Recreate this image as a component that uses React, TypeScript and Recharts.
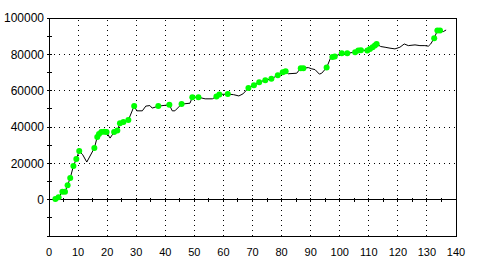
import React from 'react';
import { ComposedChart, Line, XAxis, YAxis, ReferenceLine, ReferenceArea } from 'recharts';

// trade number vs. balance
const tradeNo = [
  1.5, 2.2, 3.3, 4.6, 5.5, 6.4, 7.3, 8.4, 9.4, 10.4, 11.6, 13.0, 15.6, 16.6, 17.2, 18.0, 19.0, 19.8,
  21.0, 22.4, 23.5, 24.4, 25.6, 27.3, 29.3, 30.2, 32.1, 33.3, 34.7, 35.5, 37.6, 41.4, 42.4, 43.3,
  45.6, 48.5, 49.3, 51.4, 53.7, 56.2, 57.6, 58.6, 61.5, 63.5, 65.3, 66.7, 68.6, 70.5, 72.3, 74.4,
  76.5, 78.7, 80.4, 81.4, 82.3, 85.2, 86.6, 87.5, 89.2, 90.4, 91.5, 93.0, 93.8, 95.5, 96.9, 97.5,
  98.3, 100.7, 102.6, 105.3, 106.4, 107.3, 109.5, 110.4, 111.3, 112.1, 112.7, 114.1, 115.6, 117.3,
  119.0, 120.7, 122.2, 123.6, 125.9, 127.6, 129.3, 130.5, 131.3, 132.5, 133.6, 134.5, 135.6, 136.6,
];
const balance = [
  -400, 300, 1300, 4300, 4300, 8000, 11900, 18500, 22400, 26800, 24700, 20700, 28400, 34500, 36100,
  37200, 37400, 37200, 33900, 37200, 38100, 42100, 42700, 43800, 51600, 48900, 48900, 51500, 51800,
  50400, 51500, 52200, 48900, 48900, 52600, 53100, 56400, 56400, 55500, 55500, 56800, 57900, 58100,
  57800, 57100, 58200, 61400, 63000, 64700, 65800, 66500, 68500, 70200, 70700, 69300, 69600, 72400,
  72400, 72700, 72000, 71600, 69100, 69600, 72700, 78200, 78500, 78800, 80600, 80600, 81200, 82100,
  82300, 82100, 83000, 83900, 84800, 85700, 84300, 83900, 83400, 83000, 83900, 85700, 84800, 85200,
  84800, 84800, 84500, 85700, 88900, 93100, 93100, 92500, 93400,
];
// 1 = point drawn with a green marker
const marked = [
  0, 1, 1, 1, 1, 1, 1, 1, 1, 1, 0, 0, 1, 1, 1, 1, 1, 1, 0, 1, 1, 1, 1, 1, 1, 0, 0, 0, 0, 0, 1, 1, 0, 0,
  1, 0, 1, 1, 0, 0, 1, 1, 1, 0, 0, 0, 1, 1, 1, 1, 1, 1, 1, 1, 0, 0, 1, 1, 0, 0, 0, 0, 0, 1, 0, 1,
  1, 1, 1, 1, 1, 1, 1, 1, 1, 1, 1, 0, 0, 0, 0, 0, 0, 0, 0, 0, 0, 0, 0, 1, 1, 1, 0, 0,
];

const xTicks = [0, 10, 20, 30, 40, 50, 60, 70, 80, 90, 100, 110, 120, 130, 140];
const zeroLineTicks = [5, 10, 15, 20, 25, 30, 35, 40, 45, 50, 55, 60, 65, 70, 75, 80, 85, 90, 95, 100, 105, 110, 115, 120, 125, 130, 135];
const yTicks = [-20000, -10000, 0, 10000, 20000, 30000, 40000, 50000, 60000, 70000, 80000, 90000, 100000];
const yLabels = [0, 20000, 40000, 60000, 80000, 100000];
const gridX = [10, 20, 30, 40, 50, 60, 70, 80, 90, 100, 110, 120, 130];
const gridY = [20000, 40000, 60000, 80000];

const X_MIN = 0;
const X_MAX = 140;
const Y_MIN = -20000;
const Y_MAX = 100000;
const TICK_HALF = 1100; // about 2px in y units

const data = tradeNo.map((x, i) => ({ x, y: balance[i], m: marked[i] }));

const FONT = '"Liberation Sans", Arial, sans-serif';

const YTick = (props: any) => {
  const { x, y, payload } = props;
  const show = yLabels.includes(payload.value);
  return (
    <g>
      <line x1={x - 2} y1={y} x2={x + 3} y2={y} stroke="#000" shapeRendering="crispEdges" />
      {show && (
        <text x={x - 5} y={y} dy="0.35em" textAnchor="end" fontSize={12} fontFamily={FONT} fill="#000">
          {payload.value}
        </text>
      )}
    </g>
  );
};

const XTick = (props: any) => {
  const { x, y, payload } = props;
  return (
    <text x={x} y={y} dy="0.71em" textAnchor="middle" fontSize={11} fontFamily={FONT} fill="#000">
      {payload.value}
    </text>
  );
};

const Marker = (props: any) => {
  const { cx, cy, payload, index } = props;
  if (!payload.m) return <g key={`d${index}`} />;
  return <circle key={`d${index}`} cx={cx} cy={cy} r={3} fill="#00ff00" stroke="none" />;
};

export default function App() {
  return (
    <div style={{ position: 'absolute', left: 0, top: 0, width: 479, height: 264, background: '#fff' }}>
      <ComposedChart
        width={479}
        height={264}
        data={data}
        margin={{ top: 18, right: 23, bottom: 0, left: 0 }}
      >
        <XAxis
          dataKey="x"
          type="number"
          domain={[X_MIN, X_MAX]}
          ticks={xTicks}
          interval={0}
          height={28}
          axisLine={false}
          tickLine={false}
          tickSize={0}
          tickMargin={12}
          tick={<XTick />}
          allowDataOverflow
        />
        <YAxis
          type="number"
          domain={[Y_MIN, Y_MAX]}
          ticks={yTicks}
          interval={0}
          width={49}
          axisLine={false}
          tickLine={false}
          tickSize={0}
          tickMargin={0}
          tick={<YTick />}
          allowDataOverflow
        />
        {gridX.map((v) => (
          <ReferenceLine key={`gx${v}`} x={v} stroke="#000" strokeDasharray="1 4" shapeRendering="crispEdges" />
        ))}
        {gridY.map((v) => (
          <ReferenceLine key={`gy${v}`} y={v} stroke="#000" strokeDasharray="1 4" shapeRendering="crispEdges" />
        ))}
        <ReferenceLine y={0} stroke="#000" shapeRendering="crispEdges" />
        {zeroLineTicks.map((v) => (
          <ReferenceLine
            key={`zt${v}`}
            segment={[{ x: v, y: -TICK_HALF }, { x: v, y: TICK_HALF }]}
            stroke="#000"
            shapeRendering="crispEdges"
          />
        ))}
        <ReferenceArea
          x1={X_MIN}
          x2={X_MAX}
          y1={Y_MIN}
          y2={Y_MAX}
          fill="none"
          fillOpacity={0}
          stroke="#000"
          strokeWidth={1}
          shapeRendering="crispEdges"
        />
        <Line
          dataKey="y"
          type="linear"
          stroke="#000"
          strokeWidth={1}
          dot={Marker}
          activeDot={false}
          isAnimationActive={false}
        />
      </ComposedChart>
    </div>
  );
}
